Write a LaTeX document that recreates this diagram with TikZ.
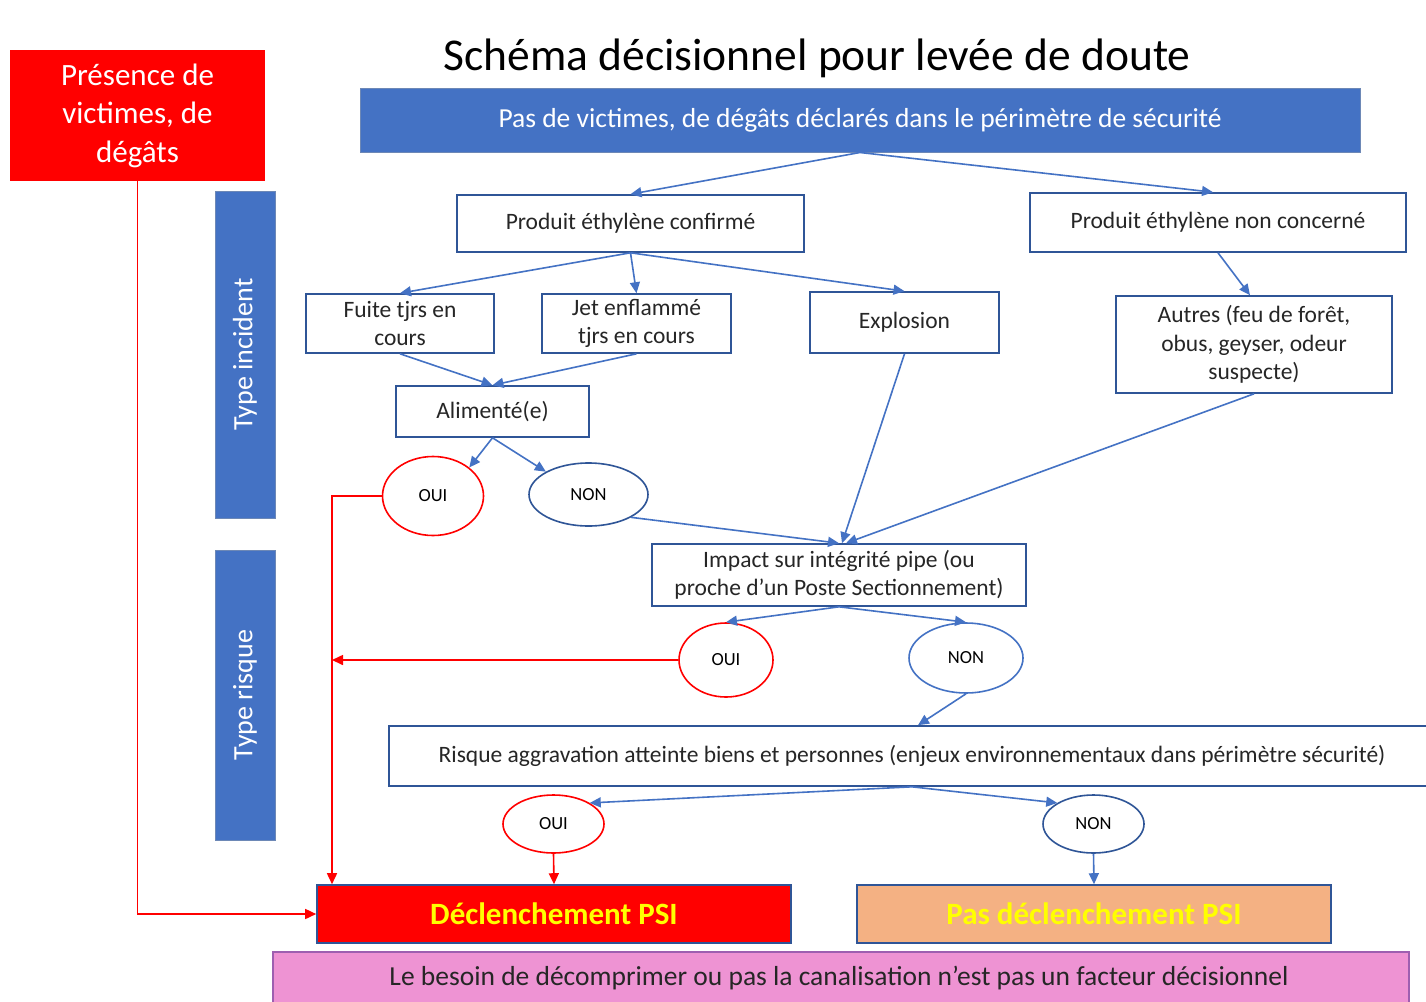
\documentclass[tikz,border=0pt]{standalone}
\usepackage{fontspec}
\setmainfont{Carlito}
\usepackage{tikz}
\usetikzlibrary{arrows.meta,shapes.geometric}
\definecolor{bandblue}{HTML}{4472C4}
\definecolor{edgeblue}{HTML}{2F5597}
\definecolor{psired}{HTML}{FF0000}
\definecolor{psiorange}{HTML}{F4B183}
\definecolor{notepink}{HTML}{EE93D3}
\definecolor{notepurple}{HTML}{9E5FB0}
\definecolor{txtyellow}{HTML}{FFFF00}

\begin{document}
\begin{tikzpicture}[x=1pt,y=-1pt,
  box/.style={draw=edgeblue,line width=1.6pt,fill=white,text=black!85,align=center,
    inner sep=0pt,font=\fontsize{23.5}{28.5}\selectfont},
  band/.style={fill=bandblue,draw=edgeblue!70,line width=1pt,text=white,inner sep=0pt},
  yes/.style={ellipse,draw=psired,line width=1.6pt,inner sep=0pt,font=\fontsize{18.5}{20}\selectfont},
  no/.style={ellipse,draw=edgeblue,line width=1.6pt,inner sep=0pt,font=\fontsize{18.5}{20}\selectfont},
  arr/.style={draw=bandblue,line width=1.6pt,-{Triangle[length=11pt,width=10pt]}},
  redarr/.style={draw=psired,line width=1.6pt,-{Triangle[length=11pt,width=10pt]}},
  psi/.style={draw=edgeblue,line width=1.6pt,inner sep=0pt,text=txtyellow,
    font=\fontsize{31}{33}\selectfont\bfseries,minimum width=474,minimum height=58}]
\useasboundingbox[fill=white] (0,0) rectangle (1426,1001);

% titre et bandeaux
\node[font=\fontsize{45.5}{50}\selectfont] (titre) at (817,58) {Schéma décisionnel pour levée de doute};
\node[band,minimum width=1000,minimum height=64,font=\fontsize{27.5}{30}\selectfont] (pasvict) at (860,120)
  {Pas de victimes, de dégâts déclarés dans le périmètre de sécurité};
\node[fill=psired,text=white,align=center,inner sep=0pt,minimum width=255,minimum height=131,
  font=\fontsize{31}{38.5}\selectfont] (presence) at (137.5,115.5) {Présence de\\victimes, de\\dégâts};
\node[band,rotate=90,minimum width=327,minimum height=60,font=\fontsize{28}{30}\selectfont] (tincid) at (245,354.5) {Type incident};
\node[band,rotate=90,minimum width=290,minimum height=60,font=\fontsize{28}{30}\selectfont] (trisque) at (245,695) {Type risque};

% boites
\node[box,minimum width=347,minimum height=57] (conf) at (630.5,223.5) {Produit éthylène confirmé};
\node[box,minimum width=376,minimum height=59] (nonconc) at (1218,222.5) {Produit éthylène non concerné};
\node[box,minimum width=188,minimum height=59] (fuite) at (400,323.5) {Fuite tjrs en\\cours};
\node[box,minimum width=189,minimum height=59] (jet) at (636.5,323.5) {Jet enflammé\\tjrs en cours};
\node[box,minimum width=189,minimum height=61] (explo) at (904.5,322.5) {Explosion};
\node[box,minimum width=276,minimum height=97] (autres) at (1254,344.5) {Autres (feu de forêt,\\obus, geyser, odeur\\suspecte)};
\node[box,minimum width=193,minimum height=51] (alim) at (492.5,411.5) {Alimenté(e)};
\node[yes,minimum width=101,minimum height=79] (oui1) at (433,496) {OUI};
\node[no,minimum width=119,minimum height=63] (non1) at (588.5,494.5) {NON};
\node[box,minimum width=374,minimum height=62] (impact) at (839,575) {Impact sur intégrité pipe (ou\\proche d’un Poste Sectionnement)};
\node[yes,minimum width=94,minimum height=74] (oui2) at (726,660) {OUI};
\node[no,draw=bandblue,minimum width=114,minimum height=70] (non2) at (966,658) {NON};
\node[box,minimum width=1046,minimum height=60] (risque) at (912,756)
  {Risque aggravation atteinte biens et personnes (enjeux environnementaux dans périmètre sécurité)};
\node[yes,minimum width=101,minimum height=58] (oui3) at (553.5,824) {OUI};
\node[no,minimum width=101,minimum height=58] (non3) at (1093.5,824) {NON};
\node[psi,fill=psired] (decl) at (554,914) {Déclenchement PSI};
\node[psi,fill=psiorange] (pasdecl) at (1094,914) {Pas déclenchement PSI};
\node[draw=notepurple,line width=1.6pt,fill=notepink,inner sep=0pt,minimum width=1136,minimum height=60] (besoin) at (841,982) {};
\node[font=\fontsize{27.5}{30}\selectfont,text=black!85] (besointxt) at (839,978)
  {Le besoin de décomprimer ou pas la canalisation n’est pas un facteur décisionnel};

% fleches bleues
\draw[arr] (pasvict.south) -- (conf.north);
\draw[arr] (pasvict.south) -- ([xshift=-5pt]nonconc.north);
\draw[arr] (conf.south) -- (fuite.north);
\draw[arr] (conf.south) -- (jet.north);
\draw[arr] (conf.south) -- (explo.north);
\draw[arr] (nonconc.south) -- ([xshift=-4pt]autres.north);
\draw[arr] (fuite.south) -- (alim.north);
\draw[arr] (jet.south) -- (alim.north);
\draw[arr] (alim.south) -- (oui1.north east);
\draw[arr] (alim.south) -- (non1.north west);
\draw[arr] (non1.south east) -- (impact.north);
\draw[arr] (explo.south) -- ([xshift=3pt]impact.north);
\draw[arr] (autres.south) -- ([xshift=7pt]impact.north);
\draw[arr] (impact.south) -- (oui2.north);
\draw[arr] (impact.south) -- (non2.north);
\draw[arr] (non2.south) -- ([xshift=6pt]risque.north);
\draw[arr] (risque.south) -- (oui3.north east);
\draw[arr] (risque.south) -- (non3.north west);
\draw[arr] (non3.south) -- (pasdecl.north);

% fleches rouges
\draw[redarr] (presence.south) -- (presence.south |- decl.west) -- (decl.west);
\coordinate (redx) at (332,496);
\draw[redarr] (oui1.west) -- (redx) -- (redx |- decl.north);
\draw[redarr] (oui2.west) -- (oui2.west -| redx);
\draw[redarr] (oui3.south) -- (decl.north);
\end{tikzpicture}
\end{document}
